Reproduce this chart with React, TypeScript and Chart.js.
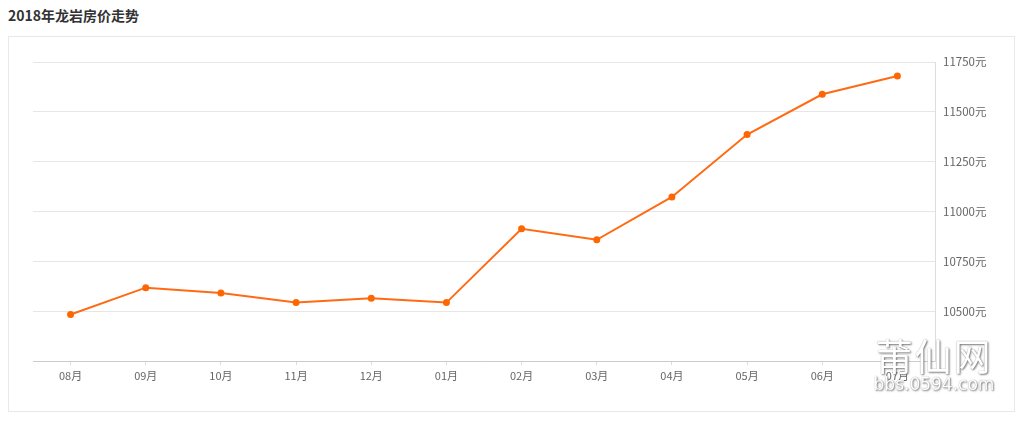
import React, { useEffect, useRef } from "react";
import { Chart, registerables } from "chart.js";

Chart.register(...registerables);

const TITLE = "2018年龙岩房价走势";
const MONTHS = ["08月", "09月", "10月", "11月", "12月", "01月", "02月", "03月", "04月", "05月", "06月", "07月"];
const PRICES = [10483, 10618, 10591, 10543, 10565, 10543, 10913, 10858, 11073, 11386, 11588, 11680];
const Y_MIN = 10250;
const Y_MAX = 11750;
const Y_STEP = 250;
const UNIT = "元";

const FONT = "'Noto Sans CJK SC', 'Noto Sans', sans-serif";

export default function App() {
  const ref = useRef<HTMLCanvasElement | null>(null);

  useEffect(() => {
    if (!ref.current) return;
    const chart = new Chart(ref.current, {
      type: "line",
      data: {
        labels: MONTHS,
        datasets: [
          {
            data: PRICES,
            borderColor: "#ff6a13",
            backgroundColor: "#ff6600",
            pointBackgroundColor: "#ff6600",
            pointBorderColor: "#ff6600",
            borderWidth: 2,
            pointRadius: 3.5,
            pointBorderWidth: 0,
            tension: 0,
            fill: false,
          },
        ],
      },
      options: {
        animation: false,
        responsive: false,
        maintainAspectRatio: false,
        layout: { padding: { left: 24, top: 25, right: 0, bottom: 0 } },
        plugins: { legend: { display: false }, tooltip: { enabled: false } },
        scales: {
          x: {
            offset: true,
            grid: {
              display: true,
              drawOnChartArea: false,
              drawTicks: true,
              tickLength: 4,
              color: "#dddddd",
              offset: false,
            },
            border: { display: true, color: "#cccccc", width: 1 },
            ticks: {
              color: "#666666",
              font: { size: 11, family: FONT },
              padding: 4,
              maxRotation: 0,
              autoSkip: false,
            },
            afterFit: (s: any) => {
              s.height = 50;
            },
          },
          y: {
            position: "right",
            min: Y_MIN,
            max: Y_MAX,
            grid: { color: "#e6e6e6", drawTicks: false, lineWidth: 1 },
            border: { display: true, color: "#dddddd", width: 1 },
            ticks: {
              stepSize: Y_STEP,
              color: "#666666",
              font: { size: 11.5, family: FONT },
              padding: 8,
              callback: (v: any) => (v === Y_MIN ? "" : `${v}${UNIT}`),
            },
            afterFit: (s: any) => {
              s.width = 79;
            },
          },
        },
      },
    });
    return () => chart.destroy();
  }, []);

  return (
    <div style={{ position: "relative", width: 1007, height: 404, fontFamily: FONT }}>
      <div
        style={{
          position: "absolute",
          left: 0,
          top: 0,
          fontSize: 14,
          fontWeight: 700,
          color: "#333333",
          lineHeight: "15px",
          whiteSpace: "nowrap",
        }}
      >
        {TITLE}
      </div>
      <div
        style={{
          position: "absolute",
          left: 0,
          top: 28,
          width: 1005,
          height: 374,
          border: "1px solid #e8e8e8",
          background: "#ffffff",
        }}
      >
        <canvas ref={ref} width={1005} height={374} style={{ display: "block", width: 1005, height: 374 }} />
        <div
          style={{
            position: "absolute",
            left: 864,
            top: 300,
            width: 122,
            textAlign: "center",
            color: "#ffffff",
            textShadow: "1px 1px 2px #777, 0 0 1px #999",
            pointerEvents: "none",
            lineHeight: 1,
          }}
        >
          <div style={{ fontSize: 37, letterSpacing: 2 }}>莆仙网</div>
          <div style={{ fontSize: 17, fontFamily: "'DejaVu Sans', sans-serif", marginTop: 2 }}>bbs.0594.com</div>
        </div>
      </div>
    </div>
  );
}
